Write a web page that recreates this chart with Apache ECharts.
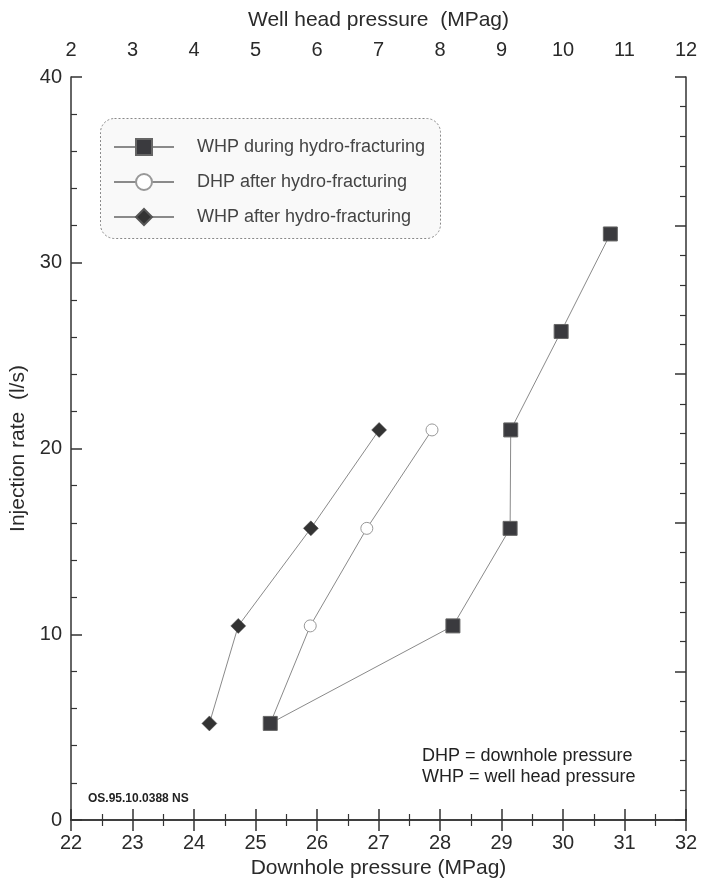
<!DOCTYPE html>
<html>
<head>
<meta charset="utf-8">
<script src="https://cdn.jsdelivr.net/npm/echarts@6/dist/echarts.min.js"></script>
<style>html,body{margin:0;padding:0;background:#fff}#c{width:704px;height:883px}</style>
</head>
<body>
<div id="c"></div>
<script>
// Injection rate (l/s)
const injRate = [5.2, 10.45, 15.7, 21.0, 26.3, 31.55];
// WHP during hydro-fracturing (MPag, top axis)
const whpDuring = [5.24, 8.21, 9.14, 9.15, 9.97, 10.77];
// DHP after hydro-fracturing (MPag, bottom axis)
const dhpAfter = [25.24, 25.89, 26.81, 27.87];
// WHP after hydro-fracturing (MPag, top axis)
const whpAfter = [4.25, 4.72, 5.90, 7.01];
const rateAfter = [5.2, 10.45, 15.7, 21.0];

const names = ['WHP during hydro-fracturing', 'DHP after hydro-fracturing', 'WHP after hydro-fracturing'];
const FONT = 'Liberation Sans, Arial, sans-serif';
const axisCol = '#333';
const lineCol = '#8a8a8a';

function pairs(xs, ys){ return xs.map((x,i)=>[x, ys[i]]); }

const chart = echarts.init(document.getElementById('c'));
const baseAxis = {
  axisLine: {show: true, lineStyle: {color: axisCol, width: 1.5}},
  axisTick: {show: true, inside: true, length: 11, lineStyle: {color: axisCol, width: 1.5}},
  minorTick: {show: true, length: 6, lineStyle: {color: axisCol, width: 1.2}},
  splitLine: {show: false},
  axisLabel: {color: '#2a2a2a', fontSize: 20, fontFamily: FONT},
  nameTextStyle: {color: '#2a2a2a', fontSize: 21, fontFamily: FONT}
};
chart.setOption({
  animation: false,
  backgroundColor: '#fff',
  grid: {left: 71, right: 18, top: 77, bottom: 63, containLabel: false, outerBoundsMode: 'none'},
  xAxis: [
    Object.assign({}, baseAxis, {
      type: 'value', position: 'bottom', min: 22, max: 32, interval: 1,
      minorTick: Object.assign({}, baseAxis.minorTick, {splitNumber: 2}),
      axisLabel: Object.assign({}, baseAxis.axisLabel, {margin: 13}),
      name: 'Downhole pressure (MPag)', nameLocation: 'middle', nameGap: 37
    }),
    Object.assign({}, baseAxis, {
      type: 'value', position: 'top', min: 2, max: 12, interval: 1,
      minorTick: Object.assign({}, baseAxis.minorTick, {splitNumber: 2}),
      axisLabel: Object.assign({}, baseAxis.axisLabel, {margin: 17}),
      name: 'Well head pressure  (MPag)', nameLocation: 'middle', nameGap: 46
    })
  ],
  yAxis: [
    Object.assign({}, baseAxis, {
      type: 'value', position: 'left', min: 0, max: 40, interval: 10,
      minorTick: Object.assign({}, baseAxis.minorTick, {splitNumber: 5}),
      axisLabel: Object.assign({}, baseAxis.axisLabel, {margin: 9}),
      name: 'Injection rate  (l/s)', nameLocation: 'middle', nameGap: 34
    }),
    Object.assign({}, baseAxis, {
      type: 'value', position: 'right', min: 0, max: 5, interval: 1,
      minorTick: Object.assign({}, baseAxis.minorTick, {splitNumber: 5}),
      axisLabel: {show: false}
    })
  ],
  legend: {
    orient: 'vertical', left: 108, top: 133, itemGap: 17,
    itemWidth: 60, itemHeight: 20,
    data: names,
    textStyle: {color: '#444', fontSize: 18, fontFamily: FONT, padding: [0, 0, 0, 18]},
    selectedMode: false
  },
  graphic: [
    {type: 'rect', left: 100, top: 118, z: -1,
     shape: {width: 340, height: 120, r: 14},
     style: {fill: '#f9f9f9', stroke: '#888', lineWidth: 1, lineDash: [2, 2]}},
    {type: 'text', left: 422, top: 746, style: {text: 'DHP = downhole pressure\nWHP = well head pressure', fill: '#222', font: '18px ' + FONT, lineHeight: 21}},
    {type: 'text', left: 88, top: 793, style: {text: 'OS.95.10.0388 NS', fill: '#222', font: 'bold 12px ' + FONT, letterSpacing: -0.4}}
  ],
  series: [
    {name: names[1], type: 'line', xAxisIndex: 0, yAxisIndex: 0,
     data: pairs(dhpAfter, rateAfter), symbol: 'circle', symbolSize: 12,
     lineStyle: {color: lineCol, width: 1},
     itemStyle: {color: '#fff', borderColor: '#999', borderWidth: 1}, z: 2},
    {name: names[0], type: 'line', xAxisIndex: 1, yAxisIndex: 0,
     data: pairs(whpDuring, injRate), symbol: 'rect', symbolSize: 14,
     lineStyle: {color: lineCol, width: 1},
     itemStyle: {color: '#3a3a3e', borderColor: '#666', borderWidth: 1}, z: 3},
    {name: names[2], type: 'line', xAxisIndex: 1, yAxisIndex: 0,
     data: pairs(whpAfter, rateAfter), symbol: 'diamond', symbolSize: [15, 15],
     lineStyle: {color: lineCol, width: 1},
     itemStyle: {color: '#333', borderColor: '#555', borderWidth: 0.5}, z: 3}
  ]
});
</script>
</body>
</html>
